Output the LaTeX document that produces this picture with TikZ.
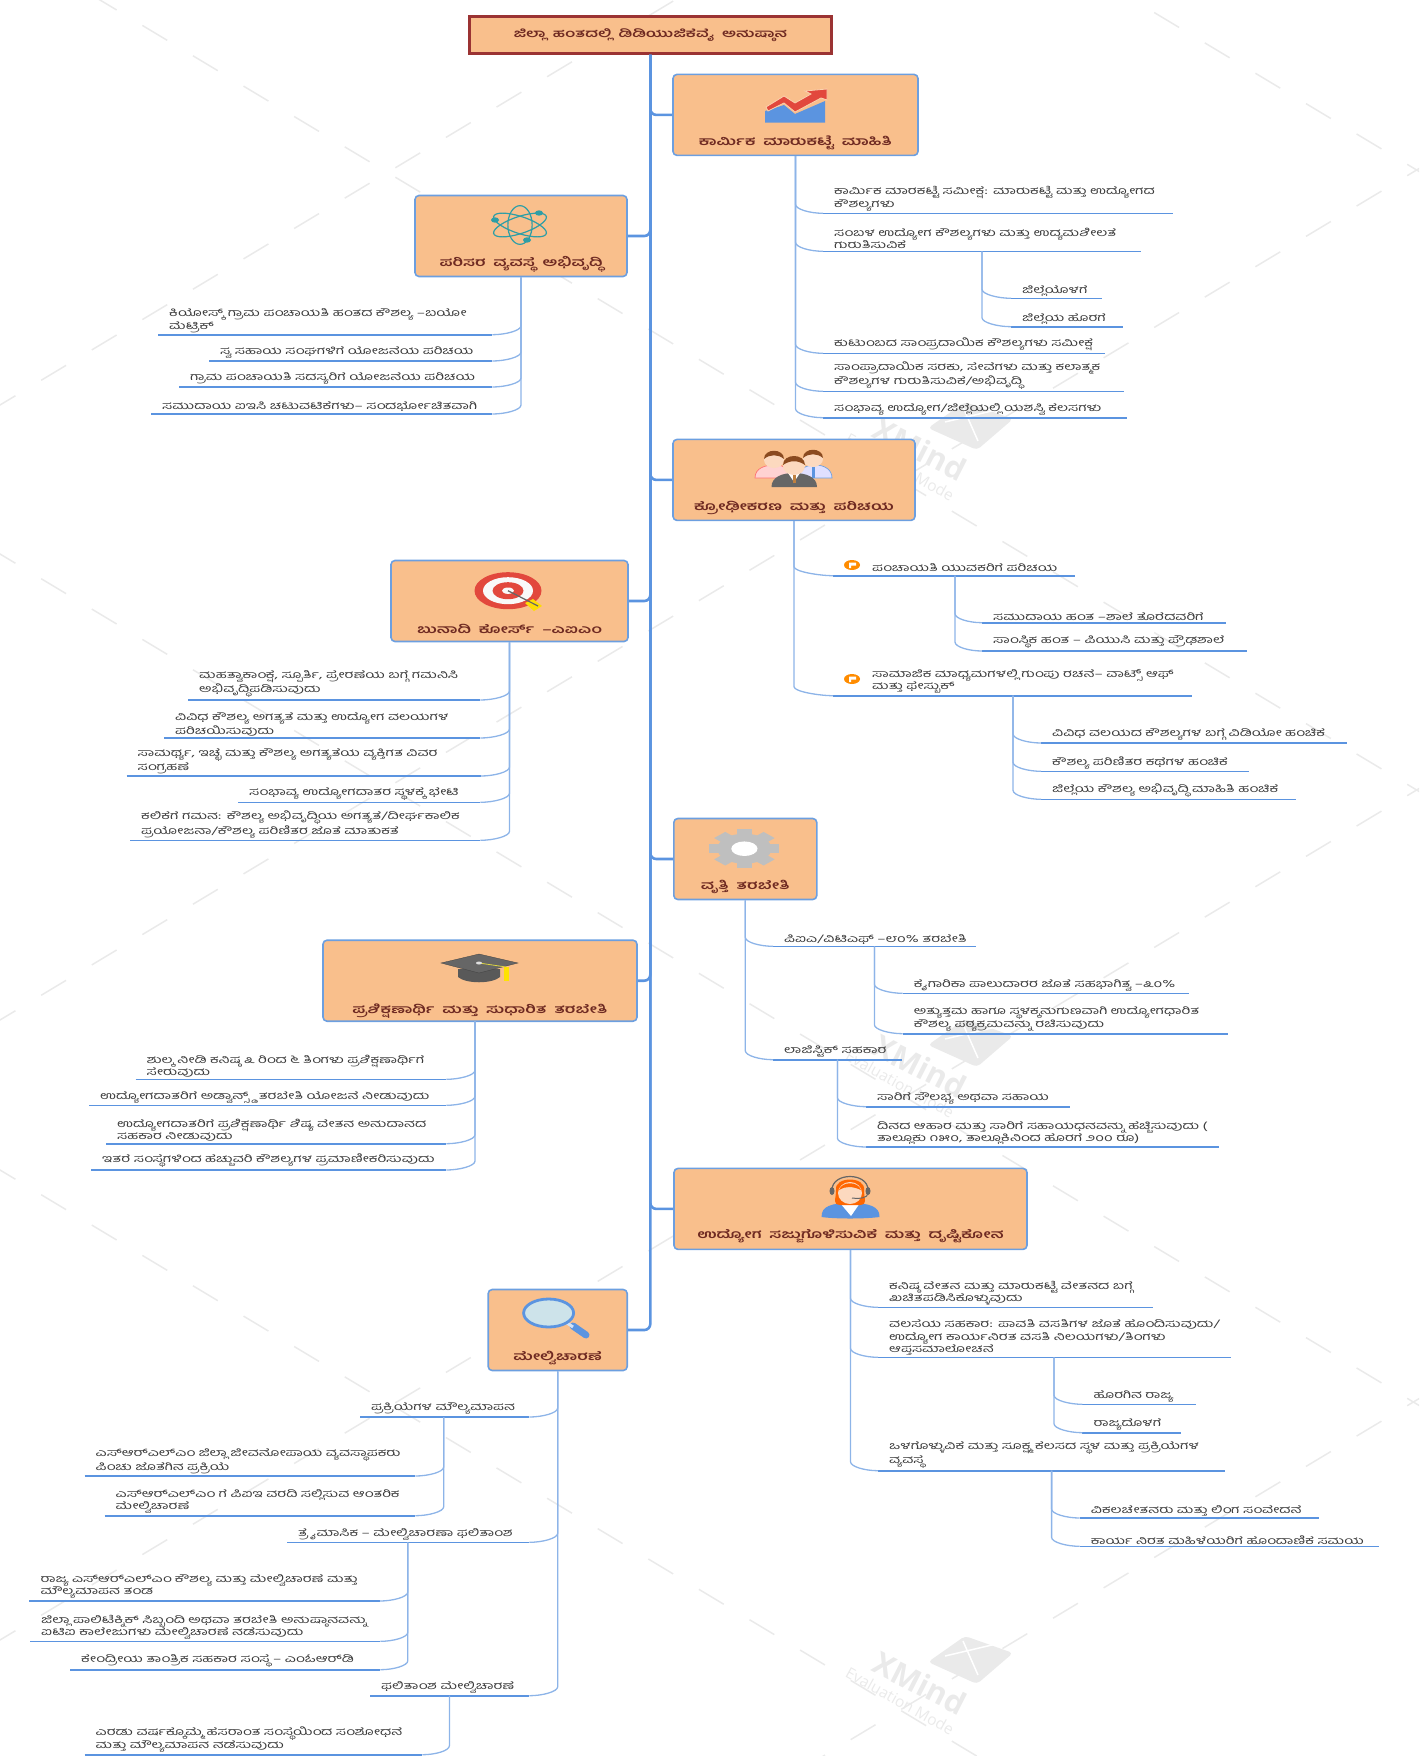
\documentclass[tikz,border=0pt]{standalone}
\usepackage{fontspec}
\usetikzlibrary{calc}
\newfontfamily\kn[Script=Kannada,FakeStretch=1.46,WordSpace=1.8]{Hind Mysuru}
\newfontfamily\wmfont{Open Sans}
\definecolor{peach}{HTML}{F9BF8C}
\definecolor{rootred}{HTML}{9B3333}
\definecolor{ttlred}{HTML}{6F2A22}
\definecolor{boxblue}{HTML}{6C9FE0}
\definecolor{linkblue}{HTML}{5B94E0}
\definecolor{twigblue}{HTML}{8DB4E8}
\definecolor{inktxt}{HTML}{3A3A3A}
\definecolor{wmgrey}{HTML}{EAEAEA}
\definecolor{chartred}{HTML}{E2483D}
\definecolor{skin}{HTML}{FCD9BF}
\definecolor{hair}{HTML}{8B4A1F}
\definecolor{atomteal}{HTML}{2E9EA6}
\definecolor{glass}{HTML}{CDE3EA}
\tikzset{uline/.style={draw=linkblue,line width=1.6pt}}
\tikzset{leaf/.style={anchor=south west,inner xsep=11pt,inner ysep=2pt,text width=#1-22pt,align=left,text=inktxt,
  font=\kn\fontsize{10.5}{12.3}\selectfont,
  append after command={(\tikzlastnode.south west) edge[uline] (\tikzlastnode.south east)}}}
\tikzset{topic/.style={rectangle,rounded corners=4pt,fill=peach,draw=boxblue,line width=1.6pt,inner sep=0pt}}
\tikzset{ttl/.style={font=\kn\bfseries\fontsize{11.8}{13}\selectfont,text=ttlred,inner sep=0pt}}
\tikzset{trunk/.style={draw=linkblue,line width=2.6pt,rounded corners=6pt}}
\tikzset{twig/.style={draw=twigblue,line width=1.3pt,to path={-- ($(\tikztostart |- \tikztotarget)+(0,-9)$) .. controls +(0,5) and +(-13,0) .. (\tikztotarget)}}}
\tikzset{twigl/.style={draw=twigblue,line width=1.3pt,to path={-- ($(\tikztostart |- \tikztotarget)+(0,-9)$) .. controls +(0,5) and +(13,0) .. (\tikztotarget)}}}
\tikzset{wm/.style={draw=wmgrey,line width=1.5pt,dash pattern=on 29pt off 30pt}}
\begin{document}
\begin{tikzpicture}[x=1pt,y=-1pt]
\useasboundingbox (0,0) rectangle (1419,1756);
\clip (0,0) rectangle (1419,1756);

% watermark
\foreach \c in {-680,-60,554,1170} {
  \draw[wm] (-60,{\c-36}) -- (1480,{\c+888});
}
\foreach \c in {405,1020,1640,2250} {
  \draw[wm] (-60,{\c+36}) -- (1480,{\c-888});
}
\foreach \dy in {0,617,1234} {
  \begin{scope}[yshift=-\dy pt]
  \fill[wmgrey,rounded corners=4pt] (928,1662-1234) -- (965,1636-1234) -- (1013,1653-1234) -- (977,1684-1234) -- cycle;
  \draw[white,line width=1.5pt] (945,1656-1234) -- (996,1644-1234) (963,1641-1234) -- (978,1675-1234);
  \node[rotate=-27,font=\wmfont\bfseries\fontsize{31}{31}\selectfont,text=wmgrey] (wmx\dy) at (920,1683-1234) {XMind};
  \node[rotate=-29,font=\wmfont\fontsize{15.5}{16}\selectfont,text=wmgrey] (wme\dy) at (900,1701-1234) {Evaluation Mode};
  \end{scope}
}

\node[rectangle,fill=peach,draw=rootred,line width=2.6pt,minimum width=362pt,minimum height=37pt,inner sep=0pt,ttl,font=\kn\bfseries\fontsize{11.2}{13}\selectfont] (root) at (650.3,35) {ಜಿಲ್ಲಾ ಹಂತದಲ್ಲಿ ಡಿಡಿಯುಜಿಕೆವೈ ಅನುಷ್ಠಾನ};

\node[topic,minimum width=245pt,minimum height=81pt] (mkt) at (795.5,114.9) {};
\node[topic,minimum width=212pt,minimum height=81pt] (eco) at (521,236) {};
\node[topic,minimum width=242pt,minimum height=81pt] (mob) at (794,479.9) {};
\node[topic,minimum width=237pt,minimum height=81pt] (aim) at (509.5,601) {};
\node[topic,minimum width=143pt,minimum height=81pt] (voc) at (745.3,859) {};
\node[topic,minimum width=314pt,minimum height=81pt] (adv) at (480,980.7) {};
\node[topic,minimum width=353pt,minimum height=81pt] (job) at (850.5,1208.9) {};
\node[topic,minimum width=139pt,minimum height=81pt] (mon) at (557.7,1330) {};

\foreach \n in {mkt,mob,voc,job} {
  \draw[trunk] (root.south) |- (\n.west);
}
\foreach \n in {eco,aim,adv,mon} {
  \draw[trunk] (root.south) |- (\n.east);
}

\node[ttl] (mktt) at ([yshift=13.5pt]mkt.south) {ಕಾರ್ಮಿಕ ಮಾರುಕಟ್ಟೆ ಮಾಹಿತಿ};
\node[ttl] (ecot) at ([yshift=13.5pt]eco.south) {ಪರಿಸರ ವ್ಯವಸ್ಥೆ ಅಭಿವೃದ್ಧಿ};
\node[ttl] (mobt) at ([yshift=13.5pt]mob.south) {ಕ್ರೋಢೀಕರಣ ಮತ್ತು ಪರಿಚಯ};
\node[ttl] (aimt) at ([yshift=13.5pt]aim.south) {ಬುನಾದಿ ಕೋರ್ಸ್ –ಎಐಎಂ};
\node[ttl] (voct) at ([yshift=13.5pt]voc.south) {ವೃತ್ತಿ ತರಬೇತಿ};
\node[ttl] (advt) at ([yshift=10.5pt]adv.south) {ಪ್ರಶಿಕ್ಷಣಾರ್ಥಿ ಮತ್ತು ಸುಧಾರಿತ ತರಬೇತಿ};
\node[ttl] (jobt) at ([yshift=13.5pt]job.south) {ಉದ್ಯೋಗ ಸಜ್ಜುಗೊಳಿಸುವಿಕೆ ಮತ್ತು ದೃಷ್ಟಿಕೋನ};
\node[ttl] (mont) at ([yshift=13.5pt]mon.south) {ಮೇಲ್ವಿಚಾರಣೆ};

\node[leaf=350pt] (mkt1) at (823,213.3) {ಕಾರ್ಮಿಕ ಮಾರಕಟ್ಟೆ ಸಮೀಕ್ಷೆ: ಮಾರುಕಟ್ಟೆ ಮತ್ತು ಉದ್ಯೋಗದ\\ಕೌಶಲ್ಯಗಳು};
\node[leaf=318pt] (mkt2) at (823,251.3) {ಸಂಬಳ ಉದ್ಯೋಗ ಕೌಶಲ್ಯಗಳು ಮತ್ತು ಉದ್ಯಮಶೀಲತೆ\\ಗುರುತಿಸುವಿಕೆ};
\node[leaf=91pt] (mkt21) at (1011,298.3) {ಜಿಲ್ಲೆಯೊಳಗೆ};
\node[leaf=112pt] (mkt22) at (1011,326.7) {ಜಿಲ್ಲೆಯ ಹೊರಗೆ};
\node[leaf=282pt] (mkt3) at (823,353.3) {ಕುಟುಂಬದ ಸಾಂಪ್ರದಾಯಿಕ ಕೌಶಲ್ಯಗಳು ಸಮೀಕ್ಷೆ};
\node[leaf=301pt] (mkt4) at (823,391.3) {ಸಾಂಪ್ರಾದಾಯಿಕ ಸರಕು, ಸೇವೆಗಳು ಮತ್ತು ಕಲಾತ್ಮಕ\\ಕೌಶಲ್ಯಗಳ ಗುರುತಿಸುವಿಕೆ/ಅಭಿವೃದ್ಧಿ};
\node[leaf=304pt] (mkt5) at (823,417.7) {ಸಂಭಾವ್ಯ ಉದ್ಯೋಗ/ಜಿಲ್ಲೆಯಲ್ಲಿ ಯಶಸ್ವಿ ಕೆಲಸಗಳು};
\coordinate (mkt2s) at (982,251.3);

\node[leaf=334pt] (eco1) at (158,334.7) {ಕಿಯೋಸ್ಕ್ ಗ್ರಾಮ ಪಂಚಾಯತಿ ಹಂತದ ಕೌಶಲ್ಯ –ಬಯೋ\\ಮೆಟ್ರಿಕ್};
\node[leaf=283pt] (eco2) at (209,361) {ಸ್ವ ಸಹಾಯ ಸಂಘಗಳಿಗೆ ಯೋಜನೆಯ ಪರಿಚಯ};
\node[leaf=313pt] (eco3) at (179,387) {ಗ್ರಾಮ ಪಂಚಾಯತಿ ಸದಸ್ಯರಿಗೆ ಯೋಜನೆಯ ಪರಿಚಯ};
\node[leaf=341pt] (eco4) at (151,414) {ಸಮುದಾಯ ಐಇಸಿ ಚಟುವಟಿಕೆಗಳು– ಸಂದರ್ಭೋಚಿತವಾಗಿ};

\node[leaf=242pt,inner ysep=4pt] (mob1) at (833,575.7) {\hspace*{28pt}ಪಂಚಾಯತಿ ಯುವಕರಿಗೆ ಪರಿಚಯ};
\node[leaf=244pt] (mob11) at (982,622.7) {ಸಮುದಾಯ ಹಂತ –ಶಾಲೆ ತೊರೆದವರಿಗೆ};
\node[leaf=265pt] (mob12) at (982,651) {ಸಾಂಸ್ಥಿಕ ಹಂತ – ಪಿಯುಸಿ ಮತ್ತು ಪ್ರೌಢಶಾಲೆ};
\node[leaf=359pt] (mob2) at (833,695.7) {\hspace*{28pt}ಸಾಮಾಜಿಕ ಮಾಧ್ಯಮಗಳಲ್ಲಿ ಗುಂಪು ರಚನೆ– ವಾಟ್ಸ್ ಆಫ್\\\hspace*{28pt}ಮತ್ತು ಫೇಸ್ಬುಕ್};
\node[leaf=306pt] (mob21) at (1041,743) {ವಿವಿಧ ವಲಯದ ಕೌಶಲ್ಯಗಳ ಬಗ್ಗೆ ವಿಡಿಯೋ ಹಂಚಿಕೆ};
\node[leaf=208pt] (mob22) at (1041,771.3) {ಕೌಶಲ್ಯ ಪರಿಣಿತರ ಕಥೆಗಳ ಹಂಚಿಕೆ};
\node[leaf=255pt] (mob23) at (1041,799.3) {ಜಿಲ್ಲೆಯ ಕೌಶಲ್ಯ ಅಭಿವೃದ್ಧಿ ಮಾಹಿತಿ ಹಂಚಿಕೆ};
\coordinate (mob1s) at (955,575.7);
\coordinate (mob2s) at (1013,695.7);

\node[leaf=292pt] (aim1) at (188,700) {ಮಹತ್ವಾಕಾಂಕ್ಷೆ, ಸ್ಪೂರ್ತಿ, ಪ್ರೇರಣೆಯ ಬಗ್ಗೆ ಗಮನಿಸಿ\\ಅಭಿವೃದ್ಧಿಪಡಿಸುವುದು};
\node[leaf=316pt] (aim2) at (164,738) {ವಿವಿಧ ಕೌಶಲ್ಯ ಅಗತ್ಯತೆ ಮತ್ತು ಉದ್ಯೋಗ ವಲಯಗಳ\\ಪರಿಚಯಿಸುವುದು};
\node[leaf=354pt] (aim3) at (126.5,776) {ಸಾಮರ್ಥ್ಯ, ಇಚ್ಛೆ ಮತ್ತು ಕೌಶಲ್ಯ ಅಗತ್ಯತೆಯ ವ್ಯಕ್ತಿಗತ ವಿವರ\\ಸಂಗ್ರಹಣೆ};
\node[leaf=242pt] (aim4) at (238,802.3) {ಸಂಭಾವ್ಯ ಉದ್ಯೋಗದಾತರ ಸ್ಥಳಕ್ಕೆ ಭೇಟಿ};
\node[leaf=350pt] (aim5) at (130,840.3) {ಕಲಿಕೆಗೆ ಗಮನ: ಕೌಶಲ್ಯ ಅಭಿವೃದ್ಧಿಯ ಅಗತ್ಯತೆ/ದೀರ್ಘಕಾಲಿಕ\\ಪ್ರಯೋಜನಾ/ಕೌಶಲ್ಯ ಪರಿಣಿತರ ಜೊತೆ ಮಾತುಕತೆ};

\node[leaf=203pt] (voc1) at (773,946.3) {\mbox{ಪಿಐಎ/ವಿಟಿಎಫ್ –೮೦\% ತರಬೇತಿ}};
\node[leaf=286pt] (voc11) at (902.6,993.3) {ಕೈಗಾರಿಕಾ ಪಾಲುದಾರರ ಜೊತೆ ಸಹಭಾಗಿತ್ವ –೩೦\%};
\node[leaf=325pt] (voc12) at (902.6,1033.7) {ಅತ್ಯುತ್ತಮ ಹಾಗೂ ಸ್ಥಳಕ್ಕನುಗುಣವಾಗಿ ಉದ್ಯೋಗಧಾರಿತ\\ಕೌಶಲ್ಯ ಪಠ್ಯಕ್ರಮವನ್ನು ರಚಿಸುವುದು};
\node[leaf=129pt] (voc2) at (773,1059.7) {ಲಾಜಿಸ್ಟಿಕ್ ಸಹಕಾರ};
\node[leaf=204pt] (voc21) at (866,1106.7) {ಸಾರಿಗೆ ಸೌಲಭ್ಯ ಅಥವಾ ಸಹಾಯ};
\node[leaf=353pt] (voc22) at (866,1147) {ದಿನದ ಆಹಾರ ಮತ್ತು ಸಾರಿಗೆ ಸಹಾಯಧನವನ್ನು ಹೆಚ್ಚಿಸುವುದು (\\ತಾಲ್ಲೂಕು ೧೫೦, ತಾಲ್ಲೂಕಿನಿಂದ ಹೊರಗೆ ೨೦೦ ರೂ)};
\coordinate (voc1s) at (874.4,946.3);
\coordinate (voc2s) at (837.4,1059.7);

\node[leaf=310.5pt] (adv1) at (135.5,1079.3) {ಶುಲ್ಕ ನೀಡಿ ಕನಿಷ್ಠ ೩ ರಿಂದ ೬ ತಿಂಗಳು ಪ್ರಶಿಕ್ಷಣಾರ್ಥಿಗೆ\\ಸೇರುವುದು};
\node[leaf=357pt] (adv2) at (89,1105.3) {ಉದ್ಯೋಗದಾತರಿಗೆ ಅಡ್ವಾನ್ಸ್ಡ್ ತರಬೇತಿ ಯೋಜನೆ ನೀಡುವುದು};
\node[leaf=340pt] (adv3) at (106,1143.7) {ಉದ್ಯೋಗದಾತರಿಗೆ ಪ್ರಶಿಕ್ಷಣಾರ್ಥಿ ಶಿಷ್ಯ ವೇತನ ಅನುದಾನದ\\ಸಹಕಾರ ನೀಡುವುದು};
\node[leaf=355pt] (adv4) at (91,1170) {ಇತರೆ ಸಂಸ್ಥೆಗಳಿಂದ ಹೆಚ್ಚುವರಿ ಕೌಶಲ್ಯಗಳ ಪ್ರಮಾಣೀಕರಿಸುವುದು};
\coordinate (advs) at (475,1021.3);

\node[leaf=275pt] (job1) at (878,1307.3) {ಕನಿಷ್ಠ ವೇತನ ಮತ್ತು ಮಾರುಕಟ್ಟೆ ವೇತನದ ಬಗ್ಗೆ\\ಖಚಿತಪಡಿಸಿಕೊಳ್ಳುವುದು};
\node[leaf=353pt] (job2) at (878,1357.3) {ವಲಸೆಯ ಸಹಕಾರ: ಪಾವತಿ ವಸತಿಗಳ ಜೊತೆ ಹೊಂದಿಸುವುದು/\\ಉದ್ಯೋಗ ಕಾರ್ಯನಿರತ ವಸತಿ ನಿಲಯಗಳು/ತಿಂಗಳು\\ಆಪ್ತಸಮಾಲೋಚನೆ};
\node[leaf=113pt] (job21) at (1082.4,1404.3) {ಹೊರಗಿನ ರಾಜ್ಯ};
\node[leaf=98pt] (job22) at (1082.4,1432.7) {ರಾಜ್ಯದೊಳಗೆ};
\node[leaf=347pt] (job3) at (878,1470.7) {ಒಳಗೊಳ್ಳುವಿಕೆ ಮತ್ತು ಸೂಕ್ಷ್ಮ ಕೆಲಸದ ಸ್ಥಳ ಮತ್ತು ಪ್ರಕ್ರಿಯೆಗಳ\\ವ್ಯವಸ್ಥೆ};
\node[leaf=239pt] (job31) at (1079.7,1518) {ವಿಕಲಚೇತನರು ಮತ್ತು ಲಿಂಗ ಸಂವೇದನೆ};
\node[leaf=299pt] (job32) at (1079.7,1546.3) {ಕಾರ್ಯ ನಿರತ ಮಹಿಳೆಯರಿಗೆ ಹೊಂದಾಣಿಕೆ ಸಮಯ};
\coordinate (job2s) at (1054,1357.3);
\coordinate (job3s) at (1051.6,1470.7);

\node[leaf=169pt] (mon1) at (360,1417) {ಪ್ರಕ್ರಿಯೆಗಳ ಮೌಲ್ಯಮಾಪನ};
\node[leaf=330.5pt] (mon11) at (84.5,1476) {ಎಸ್‌ಆರ್‌ಎಲ್‌ಎಂ ಜಿಲ್ಲಾ ಜೀವನೋಪಾಯ ವ್ಯವಸ್ಥಾಪಕರು\\ಪಿಂಚು ಜೊತೆಗಿನ ಪ್ರಕ್ರಿಯೆ};
\node[leaf=310.5pt] (mon12) at (104.5,1515.7) {ಎಸ್‌ಆರ್‌ಎಲ್‌ಎಂ ಗೆ ಪಿಐಇ ವರದಿ ಸಲ್ಲಿಸುವ ಆಂತರಿಕ\\ಮೇಲ್ವಿಚಾರಣೆ};
\node[leaf=242pt] (mon2) at (287,1542.3) {ತ್ರೈಮಾಸಿಕ – ಮೇಲ್ವಿಚಾರಣಾ ಫಲಿತಾಂಶ};
\node[leaf=350pt] (mon21) at (29.4,1601) {ರಾಜ್ಯ ಎಸ್‌ಆರ್‌ಎಲ್‌ಎಂ ಕೌಶಲ್ಯ ಮತ್ತು ಮೇಲ್ವಿಚಾರಣೆ ಮತ್ತು\\ಮೌಲ್ಯಮಾಪನ ತಂಡ};
\node[leaf=350pt] (mon22) at (30,1641.3) {ಜಿಲ್ಲಾ ಪಾಲಿಟೆಕ್ನಿಕ್ ಸಿಬ್ಬಂದಿ ಅಥವಾ ತರಬೇತಿ ಅನುಷ್ಠಾನವನ್ನು\\ಐಟಿಐ ಕಾಲೇಜುಗಳು ಮೇಲ್ವಿಚಾರಣೆ ನಡೆಸುವುದು};
\node[leaf=310pt] (mon23) at (70,1669.7) {ಕೇಂದ್ರೀಯ ತಾಂತ್ರಿಕ ಸಹಕಾರ ಸಂಸ್ಥೆ – ಎಂಓಆರ್‌ಡಿ};
\node[leaf=159pt] (mon3) at (370,1695.7) {ಫಲಿತಾಂಶ ಮೇಲ್ವಿಚಾರಣೆ};
\node[leaf=337.5pt] (mon31) at (84.5,1754.7) {ಎರಡು ವರ್ಷಕ್ಕೊಮ್ಮೆ ಹೆಸರಾಂತ ಸಂಸ್ಥೆಯಿಂದ ಸಂಶೋಧನೆ\\ಮತ್ತು ಮೌಲ್ಯಮಾಪನ ನಡೆಸುವುದು};
\coordinate (mon1s) at (443.7,1417);
\coordinate (mon2s) at (407.8,1542.3);
\coordinate (mon3s) at (449.4,1695.7);

\foreach \s/\t in {mkt.south/mkt1,mkt.south/mkt2,mkt.south/mkt3,mkt.south/mkt4,mkt.south/mkt5,mkt2s/mkt21,mkt2s/mkt22,
    mob.south/mob1,mob.south/mob2,mob1s/mob11,mob1s/mob12,mob2s/mob21,mob2s/mob22,mob2s/mob23,
    voc.south/voc1,voc.south/voc2,voc1s/voc11,voc1s/voc12,voc2s/voc21,voc2s/voc22,
    job.south/job1,job.south/job2,job.south/job3,job2s/job21,job2s/job22,job3s/job31,job3s/job32} {
  \draw[twig] (\s) to (\t.south west);
}
\foreach \s/\t in {eco.south/eco1,eco.south/eco2,eco.south/eco3,eco.south/eco4,
    aim.south/aim1,aim.south/aim2,aim.south/aim3,aim.south/aim4,aim.south/aim5,
    advs/adv1,advs/adv2,advs/adv3,advs/adv4,
    mon.south/mon1,mon.south/mon2,mon.south/mon3,mon1s/mon11,mon1s/mon12,mon2s/mon21,mon2s/mon22,mon2s/mon23,mon3s/mon31} {
  \draw[twigl] (\s) to (\t.south east);
}

% icons
\fill[linkblue] (765,122.7) -- (765,111) -- (784,105) -- (795,114) -- (825,101) -- (825,122.7) -- cycle;
\filldraw[fill=chartred,draw=peach!70!white,line width=.8pt] (766,107) -- (784,96) -- (795,103) -- (811,94) -- (805,91) -- (827,89) -- (827,100) -- (821,98) -- (795,112) -- (784,103) -- (768,111) -- cycle;

\begin{scope}[shift={(520,225)},xscale=1.35,yscale=.88]
\foreach \a in {0,60,120} {
  \draw[atomteal,line width=1.2pt,rotate=\a] (0,0) ellipse (9 and 22);
}
\end{scope}
\fill[atomteal] (539,213) ellipse (4 and 2.7) (495,220) ellipse (4 and 2.7) (527,240) ellipse (4 and 2.7);

\filldraw[fill=pink!70!white,draw=red!55!white,line width=.7pt] (755,478) .. controls (755,468) and (765,465) .. (775,465) .. controls (785,465) and (790,470) .. (790,478) -- cycle;
\filldraw[fill=blue!12!white,draw=boxblue,line width=.7pt] (798,478) .. controls (798,470) and (805,465) .. (815,465) .. controls (825,465) and (832,470) .. (832,478) -- cycle;
\fill[linkblue] (812,467) rectangle (815,478);
\fill[skin] (774,460) ellipse (10 and 8) (813,459) ellipse (10 and 8);
\fill[hair] (764,459) .. controls (764,448) and (784,448) .. (784,459) .. controls (778,454) and (770,454) .. (764,459) -- cycle;
\fill[hair] (803,458) .. controls (803,447) and (823,447) .. (823,458) .. controls (817,453) and (809,453) .. (803,458) -- cycle;
\fill[gray!80!black] (771.5,487) .. controls (771.5,477) and (782,473) .. (794,473) .. controls (806,473) and (817,477) .. (817,487) -- cycle;
\fill[white] (788,473) -- (800,473) -- (794,482) -- cycle;
\fill[brown] (792.5,475) rectangle (795.5,483);
\fill[skin] (794,466) ellipse (11 and 9);
\fill[hair] (783,465) .. controls (783,453) and (805,453) .. (805,465) .. controls (798,460) and (790,460) .. (783,465) -- cycle;

\fill[orange!90!yellow] (852,565) ellipse (8 and 5);
\fill[white] (849,562.5) rectangle (856,565.5) (849,562.5) rectangle (851,568);
\fill[orange!90!yellow] (852,679) ellipse (8 and 5);
\fill[white] (849,676.5) rectangle (856,679.5) (849,676.5) rectangle (851,682);

\fill[chartred] (508,590.7) ellipse (33.5 and 18.5);
\fill[white!95!gray] (508,590.7) ellipse (25 and 13.5);
\fill[chartred] (508,590.7) ellipse (15.5 and 8.5);
\fill[white!95!gray] (508,590.7) ellipse (6 and 3.2);
\fill[yellow!80!orange] (525,603) -- (533,599) -- (542,606) -- (534,611) -- cycle;
\draw[gray!80!black,line width=1.2pt] (508,590.7) -- (538,606);

\begin{scope}[shift={(744.4,848.7)},xscale=1.75,yscale=.97]
\foreach \a in {0,45,...,315} {
  \fill[gray!50!white,rotate=\a] (-4.5,-20) rectangle (4.5,-13);
}
\fill[gray!50!white] (0,0) circle (15.5);
\fill[white] (0,0) circle (7.5);
\end{scope}

\fill[gray!70!black] (458,969) -- (458,977) .. controls (466,984) and (492,984) .. (500,977) -- (500,969) -- cycle;
\filldraw[fill=gray!80!black,draw=gray!50!black,line width=.3pt] (441,963) -- (479,954) -- (518,963) -- (479,973) -- cycle;
\draw[yellow!70!gray,line width=.8pt] (479,963) -- (506,967);
\fill[yellow!85!orange] (504,967) rectangle (508.5,981);
\fill[white!75!gray] (479,963) ellipse (3 and 1.5);

\fill[linkblue] (821.6,1217) .. controls (821,1206) and (832,1203) .. (850,1203) .. controls (868,1203) and (880,1206) .. (879.5,1217) .. controls (865,1219) and (835,1219) .. (821.6,1217) -- cycle;
\fill[white] (840,1203) -- (860,1203) -- (851,1216) -- cycle;
\fill[orange!80!red] (836,1190) .. controls (834,1176) and (866,1176) .. (864,1190) .. controls (864,1200) and (868,1204) .. (860,1205) -- (840,1205) .. controls (832,1204) and (836,1200) .. (836,1190) -- cycle;
\fill[skin] (850,1193) ellipse (12 and 11);
\fill[orange!80!red] (839,1190) .. controls (842,1181) and (858,1181) .. (861,1190) .. controls (852,1186) and (846,1186) .. (839,1190) -- cycle;
\draw[gray!80!black,line width=1.2pt] (832,1190) .. controls (832,1172) and (868,1172) .. (868,1190);
\fill[gray!80!black] (832,1191) ellipse (2.5 and 4) (868,1191) ellipse (2.5 and 4);
\draw[gray!80!black,line width=1pt] (868,1193) .. controls (868,1198) and (860,1199) .. (852,1198);

\draw[linkblue,line width=7pt,line cap=round] (573,1326) -- (586,1335);
\draw[white!70!boxblue,line width=3pt] (567,1323) -- (573,1327);
\filldraw[fill=glass,draw=linkblue,line width=2.8pt] (548.6,1313) ellipse (25 and 14);
\end{tikzpicture}
\end{document}
